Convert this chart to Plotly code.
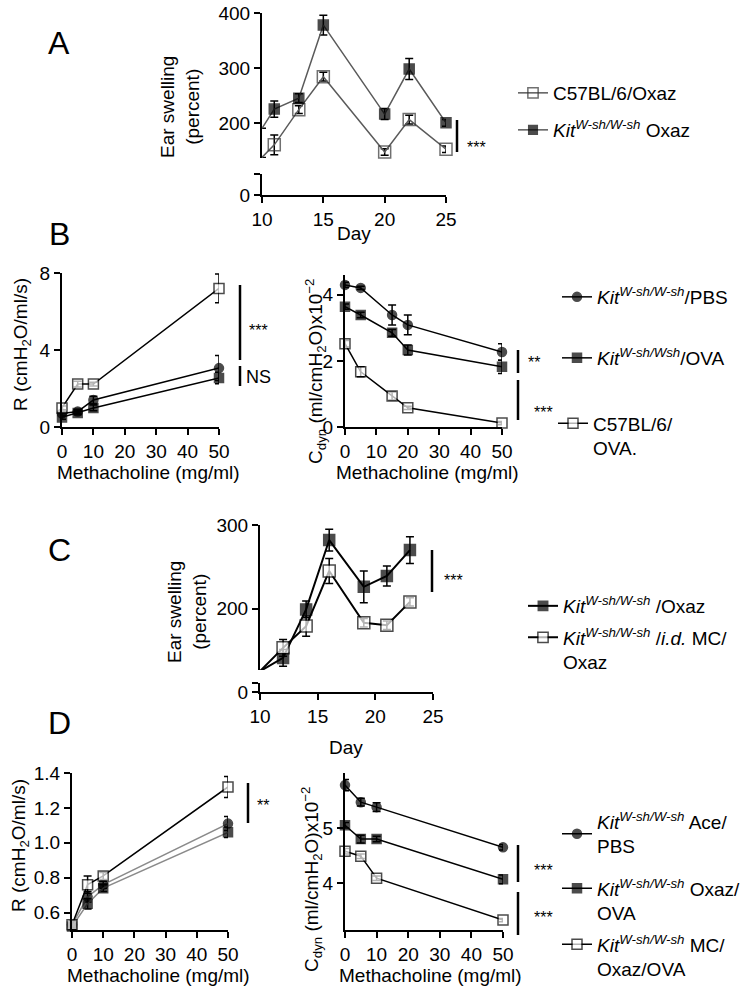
import plotly.graph_objects as go

W, H = 750, 992
FONT = "Liberation Sans, Arial, Helvetica, sans-serif"


def px(x):
    return x / W


def py(y):
    return 1 - y / H


# ---------------- DATA ----------------
# Panel A: ear swelling (percent) by day
days_A = [10, 11, 13, 15, 20, 22, 25]
swell_A_c57 = [137, 160, 224, 284, 147, 206, 152]
err_A_c57 = [0, 18, 7, 8, 6, 8, 6]
swell_A_kit = [190, 225, 245, 378, 216, 298, 200]
err_A_kit = [0, 15, 8, 18, 10, 19, 6]

# Panel B left: R (cmH2O/ml/s) vs methacholine
mch_BL = [0, 5, 10, 50]
R_B_pbs = [0.7, 0.8, 1.4, 3.06]
errR_B_pbs = [0.1, 0.1, 0.2, 0.65]
R_B_ova = [0.5, 0.73, 0.99, 2.55]
errR_B_ova = [0.1, 0.1, 0.15, 0.3]
R_B_c57 = [0.99, 2.23, 2.23, 7.2]
errR_B_c57 = [0.1, 0.15, 0.1, 0.75]

# Panel B right: Cdyn (x10^-2)
mch_BR = [0, 5, 15, 20, 50]
C_B_pbs = [4.30, 4.21, 3.39, 3.09, 2.27]
errC_B_pbs = [0.08, 0.05, 0.3, 0.3, 0.25]
C_B_ova = [3.64, 3.39, 2.85, 2.33, 1.82]
errC_B_ova = [0.08, 0.08, 0.1, 0.15, 0.2]
C_B_c57 = [2.52, 1.67, 0.94, 0.58, 0.12]
errC_B_c57 = [0.1, 0.15, 0.12, 0.05, 0.05]

# Panel C: ear swelling (percent) by day
days_C = [10, 12, 14, 16, 19, 21, 23]
swell_C_kit = [125, 141, 199, 282, 226, 239, 270]
err_C_kit = [0, 10, 10, 13, 19, 12, 16]
swell_C_mc = [125, 153, 179, 245, 183, 180, 208]
err_C_mc = [0, 10, 12, 15, 5, 5, 5]

# Panel D left: R
mch_D = [0, 5, 10, 50]
R_D_ace = [0.53, 0.69, 0.76, 1.11]
errR_D_ace = [0.02, 0.03, 0.02, 0.04]
R_D_oxaz = [0.52, 0.65, 0.74, 1.06]
errR_D_oxaz = [0.02, 0.03, 0.02, 0.03]
R_D_mc = [0.53, 0.76, 0.81, 1.32]
errR_D_mc = [0.02, 0.05, 0.02, 0.06]

# Panel D right: Cdyn (x10^-2)
C_D_ace = [5.78, 5.47, 5.38, 4.65]
errC_D_ace = [0.1, 0.07, 0.08, 0.05]
C_D_oxaz = [5.05, 4.80, 4.80, 4.07]
errC_D_oxaz = [0.05, 0.07, 0.05, 0.08]
C_D_mc = [4.58, 4.49, 4.09, 3.33]
errC_D_mc = [0.05, 0.04, 0.04, 0.03]

KIT = "<i>Kit</i><sup><i>W-sh/W-sh</i></sup>"
KIT2 = "<i>Kit</i><sup><i>W-sh/Wsh</i></sup>"

# ---------------- FIGURE ----------------
fig = go.Figure()


def add(x, y, err, xa, ya, name, legend, symbol, size, fill, lcolor, lwidth=1.5,
        hide_first=False, showlegend=True):
    sizes = [0 if (hide_first and i == 0) else size for i in range(len(x))]
    fig.add_trace(go.Scatter(
        x=x, y=y, xaxis=xa, yaxis=ya, name=name, legend=legend,
        showlegend=showlegend,
        mode="lines+markers", cliponaxis=False,
        line=dict(color=lcolor, width=lwidth),
        marker=dict(symbol=symbol, size=sizes, color=fill,
                    line=dict(color="black", width=1.5)),
        error_y=dict(type="data", array=err, color="black", thickness=1.5, width=4),
    ))


GREY = "#5a5a5a"
LG = "#8a8a8a"
# A
add(days_A, swell_A_c57, err_A_c57, "x", "y", "C57BL/6/Oxaz", "legend",
    "square-open", 12, "#333", GREY, 1.5, True)
add(days_A, swell_A_kit, err_A_kit, "x", "y", KIT + " Oxaz", "legend2",
    "square", 10, "black", GREY, 1.5, True)
# B left
add(mch_BL, R_B_pbs, errR_B_pbs, "x3", "y3", KIT + "/PBS", "legend3",
    "circle", 9, "black", "black", 1.5)
add(mch_BL, R_B_ova, errR_B_ova, "x3", "y3", KIT2 + "/OVA", "legend4",
    "square", 9, "black", "black", 1.5)
add(mch_BL, R_B_c57, errR_B_c57, "x3", "y3", "C57BL/6/<br>OVA.", "legend5",
    "square", 10, "white", "black", 1.5)
# B right
add(mch_BR, C_B_pbs, errC_B_pbs, "x4", "y4", "", "legend3", "circle", 9, "black",
    "black", 1.5, showlegend=False)
add(mch_BR, C_B_ova, errC_B_ova, "x4", "y4", "", "legend4", "square", 9, "black",
    "black", 1.5, showlegend=False)
add(mch_BR, C_B_c57, errC_B_c57, "x4", "y4", "", "legend5", "square", 10, "white",
    "black", 1.5, showlegend=False)
# C
add(days_C, swell_C_kit, err_C_kit, "x5", "y5", KIT + " /Oxaz", "legend6",
    "square", 11, "black", "black", 2, True)
add(days_C, swell_C_mc, err_C_mc, "x5", "y5",
    KIT + " /<i>i.d.</i> MC/<br>Oxaz", "legend7",
    "square", 12, "white", "black", 2, True)
# D left (grey lines for the Kit Ace and Kit Oxaz groups)
add(mch_D, R_D_ace, errR_D_ace, "x7", "y7", "", "legend8",
    "circle", 9, "black", LG, 1.5, showlegend=False)
add(mch_D, R_D_oxaz, errR_D_oxaz, "x7", "y7", "", "legend9",
    "square", 9, "black", LG, 1.5, showlegend=False)
add(mch_D, R_D_mc, errR_D_mc, "x7", "y7", "", "legend10",
    "square", 10, "white", "black", 1.5, showlegend=False)
# D right (carries the legend entries)
add(mch_D, C_D_ace, errC_D_ace, "x8", "y8", KIT + " Ace/<br>PBS", "legend8",
    "circle", 9, "black", "black", 1.5)
add(mch_D, C_D_oxaz, errC_D_oxaz, "x8", "y8", KIT + " Oxaz/<br>OVA", "legend9",
    "square", 9, "black", "black", 1.5)
add(mch_D, C_D_mc, errC_D_mc, "x8", "y8", KIT + " MC/<br>Oxaz/OVA", "legend10",
    "square", 10, "white", "black", 1.5)

# empty placeholders so the lower segments of the broken axes are drawn
for xa_, ya_ in (("x2", "y2"), ("x6", "y6")):
    fig.add_trace(go.Scatter(x=[None], y=[None], xaxis=xa_, yaxis=ya_,
                             mode="markers", showlegend=False, hoverinfo="skip"))

# ---------------- AXES ----------------
AX = dict(showline=True, linecolor="black", linewidth=2, ticks="outside",
          ticklen=6, tickwidth=2, tickcolor="black", showgrid=False,
          zeroline=False, tickfont=dict(family=FONT, size=19, color="black"),
          fixedrange=True, automargin=False)


def xa(l, r, rng, anchor, visible=True, **kw):
    d = dict(AX, domain=[px(l), px(r)], range=rng, anchor=anchor, visible=visible)
    d.update(kw)
    return d


def ya(b, t, rng, anchor, **kw):
    d = dict(AX, domain=[py(b), py(t)], range=rng, anchor=anchor)
    d.update(kw)
    return d


layout_axes = dict(
    # A (broken y axis)
    xaxis=xa(262, 446, [10, 25], "y", visible=False),
    yaxis=ya(158, 13, [136, 400], "x", tickvals=[200, 300, 400]),
    xaxis2=xa(262, 446, [10, 25], "y2", tickvals=[10, 15, 20, 25]),
    yaxis2=ya(195, 174, [0, 38], "x2", tickvals=[0, 38], ticktext=["0", ""]),
    # B
    xaxis3=xa(62, 219, [0, 50], "y3", tickvals=[0, 10, 20, 30, 40, 50]),
    yaxis3=ya(427, 273, [0, 8], "x3", tickvals=[0, 4, 8]),
    xaxis4=xa(345, 502, [0, 50], "y4", tickvals=[0, 10, 20, 30, 40, 50]),
    yaxis4=ya(427, 275, [0, 4.6], "x4", tickvals=[0, 2, 4]),
    # C (broken y axis)
    xaxis5=xa(260, 433, [10, 25], "y5", visible=False),
    yaxis5=ya(670, 525, [126.5, 300], "x5", tickvals=[200, 300]),
    xaxis6=xa(260, 433, [10, 25], "y6", tickvals=[10, 15, 20, 25]),
    yaxis6=ya(692, 683, [0, 11], "x6", tickvals=[0, 11], ticktext=["0", ""]),
    # D
    xaxis7=xa(72, 228, [0, 50], "y7", tickvals=[0, 10, 20, 30, 40, 50]),
    yaxis7=ya(930, 773, [0.5, 1.4], "x7", tickvals=[0.6, 0.8, 1.0, 1.2, 1.4],
              tickformat=".1f"),
    xaxis8=xa(345, 503, [0, 50], "y8", tickvals=[0, 10, 20, 30, 40, 50]),
    yaxis8=ya(930, 773, [3.15, 6.0], "x8", tickvals=[4, 5]),
)


def leg(x, y, valign="middle"):
    return dict(x=px(x), y=py(y), xanchor="left", yanchor="middle", valign=valign,
                font=dict(family=FONT, size=19, color="black"),
                bgcolor="rgba(0,0,0,0)", borderwidth=0, itemwidth=30,
                tracegroupgap=0, itemclick=False, itemdoubleclick=False)


legends = dict(
    legend=leg(513, 93), legend2=leg(513, 130),
    legend3=leg(557, 297), legend4=leg(557, 358), legend5=leg(553, 436, "top"),
    legend6=leg(523, 606), legend7=leg(523, 650, "top"),
    legend8=leg(557, 834), legend9=leg(557, 901, "top"), legend10=leg(557, 957, "top"),
)

# ---------------- ANNOTATIONS ----------------
ann = []


def text(x, y, t, size=19, angle=0, xanchor="center", yanchor="middle"):
    ann.append(dict(x=px(x), y=py(y), xref="paper", yref="paper", text=t,
                    showarrow=False, textangle=angle, xanchor=xanchor,
                    yanchor=yanchor, font=dict(family=FONT, size=size, color="black")))


for lab, y in (("A", 43), ("B", 234), ("C", 550), ("D", 723)):
    text(59, y, lab, size=32)

text(180, 107, "Ear swelling<br>(percent)", angle=-90)
text(354, 233, "Day")
text(22, 345, "R (cmH<sub>2</sub>O/ml/s)", angle=-90)
text(148, 472, "Methacholine (mg/ml)")
text(315, 371, "C<sub>dyn</sub> (ml/cmH<sub>2</sub>O)x10<sup>−2</sup>", angle=-90)
text(427, 472, "Methacholine (mg/ml)")
text(187, 612, "Ear swelling<br>(percent)", angle=-90)
text(346, 747, "Day")
text(20, 846, "R (cmH<sub>2</sub>O/ml/s)", angle=-90)
text(158, 975, "Methacholine (mg/ml)")
text(311, 879, "C<sub>dyn</sub> (ml/cmH<sub>2</sub>O)x10<sup>−2</sup>", angle=-90)
text(430, 975, "Methacholine (mg/ml)")

# significance marks
shapes = []


def sig(x, y0, y1, label, tx, ty, size=16):
    shapes.append(dict(type="line", xref="paper", yref="paper", x0=px(x), x1=px(x),
                       y0=py(y0), y1=py(y1), line=dict(color="black", width=2.5)))
    if label:
        text(tx, ty, label, size=size, xanchor="left")


sig(457, 120, 152, "***", 465, 147)
sig(240, 285, 360, "***", 247, 330)
sig(240, 366, 386, "NS", 244, 377, size=18)
sig(518, 350, 373, "**", 526, 362)
sig(518, 380, 420, "***", 532, 413)
sig(432, 550, 592, "***", 442, 580)
sig(248, 783, 823, "**", 255, 805)
sig(518, 845, 882, "***", 532, 870)
sig(518, 892, 935, "***", 532, 917)

fig.update_layout(
    template="none",
    width=W, height=H, margin=dict(l=0, r=0, t=0, b=0, autoexpand=False),
    paper_bgcolor="white", plot_bgcolor="white",
    font=dict(family=FONT, size=19, color="black"),
    hovermode=False,
    annotations=ann, shapes=shapes, **layout_axes, **legends,
)

fig.write_html(
    "out.html",
    config={"displayModeBar": False, "staticPlot": True},
    post_script="document.body.style.margin='0';document.body.style.overflow='hidden';",
)
